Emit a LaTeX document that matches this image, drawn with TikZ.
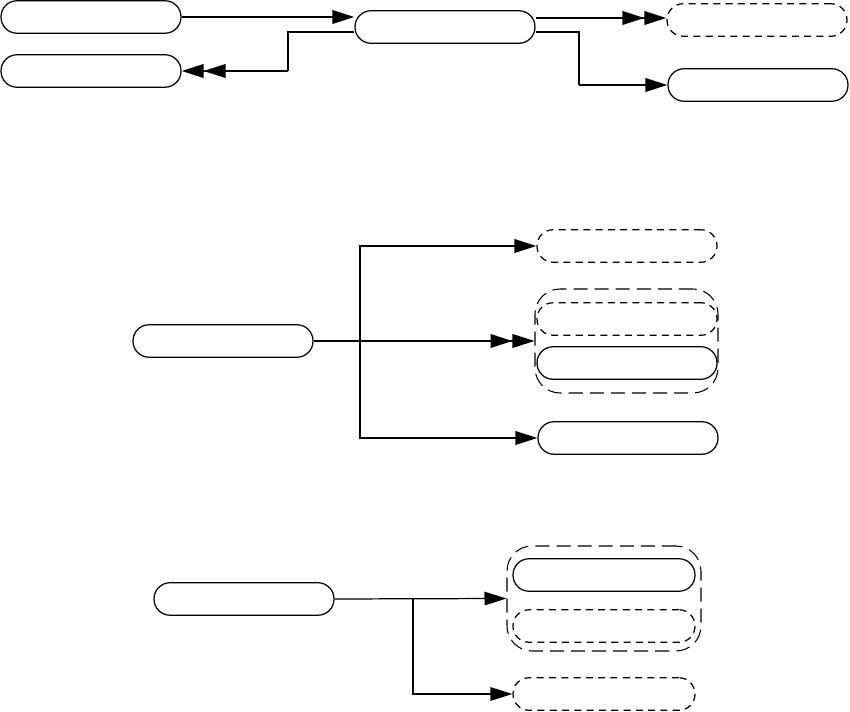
\documentclass[tikz,border=0pt]{standalone}
\usepackage{tikz}
\usetikzlibrary{arrows.meta,positioning,calc}

\begin{document}
\begin{tikzpicture}[x=0.02cm, y=-0.02cm]
  % Styles for the pills, groups and links
  \tikzstyle{pill} = [rectangle, rounded corners=0.32cm, draw=black, line width=0.7pt, minimum width=3.6cm, minimum height=0.65cm, inner sep=0pt]
  \tikzstyle{dashpill} = [pill, dash pattern=on 4pt off 3pt]
  \tikzstyle{group} = [rectangle, rounded corners=0.5cm, draw=black, line width=0.6pt, dash pattern=on 8pt off 4pt, inner sep=0pt]
  \tikzstyle{flow} = [line width=1.2pt, >={Triangle[length=0.44cm, width=0.27cm, sep=0pt]}]
  \tikzstyle{link} = [line width=0.7pt]
  \tikzstyle{thinflow} = [link, >={Triangle[length=0.44cm, width=0.27cm, sep=0pt]}]

  \useasboundingbox (0,0) rectangle (850,712);

  % Top row
  \node[pill] (src) at (91, 17) {};
  \node[pill] (back) at (91, 71) {};
  \node[pill] (hub) at (445, 27) {};
  \node[dashpill] (opt) at (757, 20) {};
  \node[pill] (out) at (758, 85) {};

  \coordinate (hubback) at (288, 71);
  \coordinate (hubout) at (579, 85);

  \draw[flow,->] (src.east) -- (hub.west |- src.east);
  \draw[link] ([yshift=-0.1cm]hub.west) -| (hubback);
  \draw[flow,->>] (hubback) -- (back.east);
  \draw[flow,->>] ([yshift=0.18cm]hub.east) -- ([yshift=0.18cm]hub.east -| opt.west);
  \draw[link] ([yshift=-0.1cm]hub.east) -| (hubout);
  \draw[flow,->] (hubout) -- (out.west);

  % Middle fork
  \node[group, minimum width=3.66cm, minimum height=2.08cm] (grpA) at (626.5, 341) {};
  \node[pill] (fork) at (223, 341) {};
  \node[dashpill] (upper) at (627, 246) {};
  \node[dashpill] (alt) at (627, 319) {};
  \node[pill] (main) at (627, 363) {};
  \node[pill] (lower) at (628, 438) {};

  \coordinate (split) at (360, 341);

  \draw[flow,->>] (fork.east) -- (grpA.west);
  \draw[flow,->] (split) |- (upper.west);
  \draw[flow,->] (split) |- (lower.west);

  % Bottom fork
  \node[group, minimum width=3.88cm, minimum height=2.1cm] (grpB) at (604, 598.5) {};
  \node[pill] (start) at (244, 599) {};
  \node[pill, minimum width=3.64cm] (first) at (604, 575) {};
  \node[dashpill, minimum width=3.64cm] (second) at (604, 626) {};
  \node[dashpill, minimum width=3.64cm] (last) at (604, 694) {};

  \coordinate (branch) at (413, 599);

  \draw[thinflow,->] (start.east) -- (grpB.west);
  \draw[thinflow,->] (branch) |- (last.west);

\end{tikzpicture}
\end{document}
